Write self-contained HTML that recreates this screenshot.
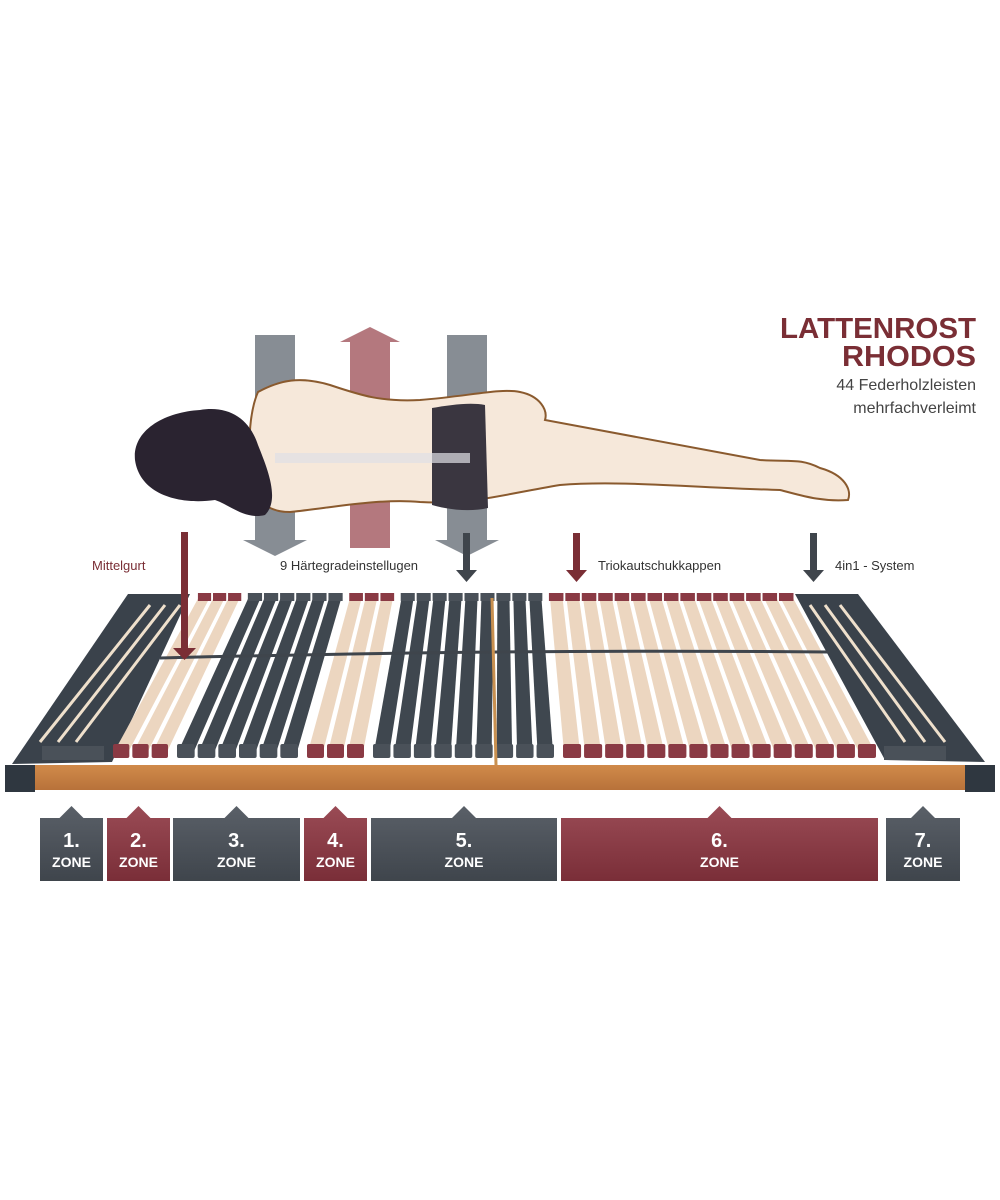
<!DOCTYPE html>
<html><head><meta charset="utf-8"><style>
html,body{margin:0;padding:0;background:#fff;}
svg{display:block}
text{font-family:"Liberation Sans",sans-serif}
</style></head><body>
<svg id="s" width="1000" height="1200" viewBox="0 0 1000 1200" xmlns="http://www.w3.org/2000/svg">
<defs>
<linearGradient id="gz" x1="0" y1="0" x2="0" y2="1"><stop offset="0" stop-color="#5a6068"/><stop offset="1" stop-color="#3f454c"/></linearGradient>
<linearGradient id="mz" x1="0" y1="0" x2="0" y2="1"><stop offset="0" stop-color="#9a4b55"/><stop offset="1" stop-color="#7a2e38"/></linearGradient>
<linearGradient id="rail" x1="0" y1="0" x2="0" y2="1"><stop offset="0" stop-color="#d08a4a"/><stop offset="1" stop-color="#b8723a"/></linearGradient>
</defs>
<text x="976" y="338" text-anchor="end" font-size="29" font-weight="bold" fill="#7a2e35" textLength="196" lengthAdjust="spacingAndGlyphs">LATTENROST</text>
<text x="976" y="366" text-anchor="end" font-size="29" font-weight="bold" fill="#7a2e35" textLength="134" lengthAdjust="spacingAndGlyphs">RHODOS</text>
<text x="976" y="390" text-anchor="end" font-size="16" fill="#444">44 Federholzleisten</text>
<text x="976" y="413" text-anchor="end" font-size="16" fill="#444">mehrfachverleimt</text>
<path d="M255 335H295V540H307L275 556L243 540H255Z" fill="#878d94"/>
<path d="M350 548H390V342H400L370 327L340 342H350Z" fill="#b4787e"/>
<path d="M447 335H487V540H499L467 556L435 540H447Z" fill="#878d94"/>
<path d="M258 392C280 380 300 376 330 385C360 395 380 402 420 400C470 396 500 388 520 392C540 396 548 410 545 420C600 430 680 445 760 460C790 462 800 458 820 468C845 475 852 490 848 500C820 502 800 495 780 490C700 488 620 480 560 485C500 495 470 505 420 502C380 498 330 508 290 512C265 512 255 500 250 470C248 440 250 410 258 392Z" fill="#f6e8da" stroke="#8a5a2e" stroke-width="2"/>
<path d="M432 408C450 405 470 402 485 405L488 508C470 512 450 510 432 505Z" fill="#3a3640"/>
<path d="M200 410C230 405 250 420 258 445C268 470 280 500 265 515C245 520 230 505 215 500C180 505 140 495 135 460C132 430 165 412 200 410Z" fill="#2a2330"/>
<line x1="275" y1="458" x2="470" y2="458" stroke="#e0e0e6" stroke-width="10" opacity=".7"/>
<text x="92" y="570" font-size="13" fill="#7a2e35">Mittelgurt</text>
<text x="280" y="570" font-size="13" fill="#333">9 Härtegradeinstellugen</text>
<text x="598" y="570" font-size="13" fill="#333">Triokautschukkappen</text>
<text x="835" y="570" font-size="13" fill="#333">4in1 - System</text>
<g id="bed"></g>
<path d="M181 532H188V648H196L184.5 660L173 648H181Z" fill="#7a2e35"/>
<path d="M463 533H470V570H477L466.5 582L456 570H463Z" fill="#3f454c"/>
<path d="M573 533H580V570H587L576.5 582L566 570H573Z" fill="#7a2e35"/>
<path d="M810 533H817V570H824L813.5 582L803 570H810Z" fill="#3f454c"/>
<g id="zones"></g>
</svg>
<script>
var ns="http://www.w3.org/2000/svg",bed=document.getElementById('bed'),z=document.getElementById('zones');
function el(p,t,a,txt){var e=document.createElementNS(ns,t);for(var k in a)e.setAttribute(k,a[k]);if(txt)e.textContent=txt;p.appendChild(e);return e;}
var T=597,B=752;function tx(b){return 500+(b-500)*0.78;}
el(bed,'path',{d:'M35 765H965V790H35Z',fill:'url(#rail)'});
el(bed,'path',{d:'M5 765H35V792H5Z',fill:'#2f3740'});
el(bed,'path',{d:'M965 765H995V792H965Z',fill:'#2f3740'});
el(bed,'path',{d:'M128 594L190 594L112 762L12 764Z',fill:'#3a424b'});
el(bed,'path',{d:'M795 594L858 594L985 762L885 760Z',fill:'#3a424b'});
[[150,40],[165,58],[180,76]].forEach(function(a){el(bed,'line',{x1:a[0],y1:605,x2:a[1],y2:742,stroke:'#efe0cc','stroke-width':3});});
[[810,905],[825,925],[840,945]].forEach(function(a){el(bed,'line',{x1:a[0],y1:605,x2:a[1],y2:742,stroke:'#efe0cc','stroke-width':3});});
var groups=[[112,170,3,'#ecd6c0','#8a3a44'],[176,300,6,'#3f474f','#4a5159'],[306,366,3,'#ecd6c0','#8a3a44'],[372,556,9,'#3f474f','#4a5159'],[562,878,15,'#ecd6c0','#8a3a44']];
groups.forEach(function(g){var n=g[2],w=(g[1]-g[0])/n;for(var i=0;i<n;i++){var b0=g[0]+i*w+2,b1=b0+w-5;
el(bed,'path',{d:'M'+tx(b0)+' '+T+'L'+tx(b1)+' '+T+'L'+b1+' '+B+'L'+b0+' '+B+'Z',fill:g[3]});
el(bed,'rect',{x:tx(b0)-1,y:T-4,width:tx(b1)-tx(b0)+2,height:8,fill:g[4]});
el(bed,'rect',{x:b0-1,y:B-8,width:b1-b0+2,height:14,rx:2,fill:g[4]});}});
el(bed,'rect',{x:42,y:746,width:62,height:14,fill:'#4a5159'});
el(bed,'rect',{x:884,y:746,width:62,height:14,fill:'#4a5159'});
el(bed,'path',{d:'M160 658C400 652 600 650 830 652',stroke:'#3f454c','stroke-width':3,fill:'none'});
el(bed,'line',{x1:492,y1:598,x2:496,y2:765,stroke:'#c89050','stroke-width':3});
var zs=[[40,103,'1.','g'],[107,170,'2.','m'],[173,300,'3.','g'],[304,367,'4.','m'],[371,557,'5.','g'],[561,878,'6.','m'],[886,960,'7.','g']];
zs.forEach(function(q){var c=q[3]=='g'?'url(#gz)':'url(#mz)',cx=(q[0]+q[1])/2;
el(z,'path',{d:'M'+q[0]+' 818H'+(cx-12)+'L'+cx+' 806L'+(cx+12)+' 818H'+q[1]+'V881H'+q[0]+'Z',fill:c});
el(z,'text',{x:cx,y:847,'text-anchor':'middle','font-size':20,'font-weight':'bold',fill:'#fff'},q[2]);
el(z,'text',{x:cx,y:867,'text-anchor':'middle','font-size':14,'font-weight':'bold',fill:'#fff'},'ZONE');});
</script>
</body></html>
